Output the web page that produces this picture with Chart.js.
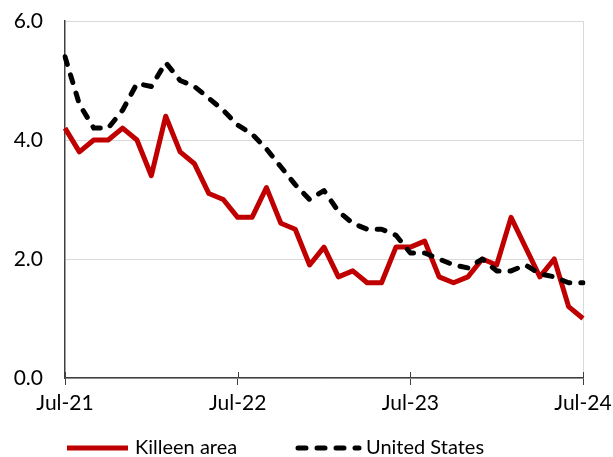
<!DOCTYPE html>
<html>
<head>
<meta charset="utf-8">
<script src="https://cdn.jsdelivr.net/npm/chart.js@4.4.1/dist/chart.umd.min.js"></script>
<style>
  html, body { margin: 0; padding: 0; background: #fff; }
  #wrap { width: 613px; height: 457px; position: relative; }
</style>
</head>
<body>
<div id="wrap"><canvas id="grafico"></canvas></div>
<script>
// ---- dados ----
const meses = [
  'Jul-21','Aug-21','Sep-21','Oct-21','Nov-21','Dec-21','Jan-22','Feb-22','Mar-22','Apr-22','May-22','Jun-22',
  'Jul-22','Aug-22','Sep-22','Oct-22','Nov-22','Dec-22','Jan-23','Feb-23','Mar-23','Apr-23','May-23','Jun-23',
  'Jul-23','Aug-23','Sep-23','Oct-23','Nov-23','Dec-23','Jan-24','Feb-24','Mar-24','Apr-24','May-24','Jun-24',
  'Jul-24'
];
const rotulosX = ['Jul-21', 'Jul-22', 'Jul-23', 'Jul-24'];

const killeen = [4.2, 3.8, 4.0, 4.0, 4.2, 4.0, 3.4, 4.4, 3.8, 3.6, 3.1, 3.0,
                 2.7, 2.7, 3.2, 2.6, 2.5, 1.9, 2.2, 1.7, 1.8, 1.6, 1.6, 2.2,
                 2.2, 2.3, 1.7, 1.6, 1.7, 2.0, 1.9, 2.7, 2.2, 1.7, 2.0, 1.2,
                 1.0];
const estadosUnidos = [5.4, 4.6, 4.2, 4.2, 4.5, 4.95, 4.9, 5.3, 5.0, 4.9, 4.7, 4.5,
                       4.25, 4.1, 3.85, 3.55, 3.25, 3.0, 3.15, 2.8, 2.6, 2.5, 2.5, 2.4,
                       2.1, 2.1, 2.0, 1.9, 1.85, 2.0, 1.8, 1.8, 1.9, 1.75, 1.7, 1.6,
                       1.6];
const nomes = ['Killeen area', 'United States'];

const fonte = 'Lato';

// eixo com marquinhas que cruzam a linha + legenda desenhada embaixo
const extras = {
  id: 'extras',
  afterDraw(chart) {
    const c = chart.ctx;
    const x = chart.scales.x;
    const area = chart.chartArea;
    c.save();
    c.strokeStyle = '#404040';
    c.lineWidth = 1;
    meses.forEach((m, i) => {
      if (!rotulosX.includes(m)) return;
      const px = Math.round(x.getPixelForValue(i)) + 0.5;
      c.beginPath();
      c.moveTo(px, area.bottom - 6);
      c.lineTo(px, area.bottom);
      c.stroke();
    });

    // legenda
    const y = 448;
    let pos = 67;
    c.font = '20px ' + fonte;
    c.textBaseline = 'middle';
    c.fillStyle = '#000';
    chart.data.datasets.forEach((ds, i) => {
      c.beginPath();
      c.strokeStyle = ds.borderColor;
      c.lineWidth = ds.borderWidth;
      c.lineCap = ds.borderCapStyle || 'butt';
      c.setLineDash(ds.borderDash || []);
      c.moveTo(pos, y);
      c.lineTo(pos + 61, y);
      c.stroke();
      c.setLineDash([]);
      c.fillText(ds.label, pos + 68, y);
      pos = i === 0 ? 298 : pos;
    });
    c.restore();
  }
};

let ctx = document.getElementById('grafico');

let meuGrafico = new Chart(ctx, {
  type: 'line',
  data: {
    labels: meses,
    datasets: [{
      label: nomes[0],
      data: killeen,
      borderColor: '#C00000',
      backgroundColor: '#C00000',
      borderWidth: 5,
      borderJoinStyle: 'round',
      pointRadius: 0,
      tension: 0,
      order: 2
    }, {
      label: nomes[1],
      data: estadosUnidos,
      borderColor: '#000000',
      backgroundColor: '#000000',
      borderWidth: 5,
      borderDash: [8, 11],
      borderCapStyle: 'round',
      borderJoinStyle: 'round',
      pointRadius: 0,
      tension: 0,
      order: 1
    }]
  },
  options: {
    responsive: true,
    maintainAspectRatio: false,
    animation: false,
    layout: { padding: { top: 21, right: 30, bottom: 34, left: 0 } },
    plugins: {
      legend: { display: false },
      tooltip: { enabled: false }
    },
    scales: {
      x: {
        offset: false,
        grid: {
          drawOnChartArea: true,
          color: c => c.index === meses.length - 1 ? '#d9d9d9' : 'transparent',
          tickColor: c => rotulosX.includes(meses[c.index]) ? '#404040' : 'transparent',
          tickLength: 7,
          lineWidth: 1
        },
        border: { color: '#404040', width: 1.5 },
        ticks: {
          autoSkip: false,
          maxRotation: 0,
          minRotation: 0,
          padding: 6,
          color: '#000',
          font: { family: fonte, size: 21 },
          callback: function(v, i) {
            const m = meses[i];
            return rotulosX.includes(m) ? m : '';
          }
        },
        afterFit(scale) {
          scale.height = 45;
          scale.paddingLeft = 0;
          scale.paddingRight = 0;
        }
      },
      y: {
        min: 0,
        max: 6,
        ticks: {
          stepSize: 2,
          padding: 22,
          color: '#000',
          font: { family: fonte, size: 21 },
          callback: v => v.toFixed(1)
        },
        grid: { color: '#d9d9d9', lineWidth: 1, drawTicks: false },
        border: { color: '#404040', width: 1.5 },
        afterFit(scale) {
          scale.width = 65;
          scale.paddingTop = 0;
          scale.paddingBottom = 0;
        }
      }
    }
  },
  plugins: [extras]
});
</script>
</body>
</html>
